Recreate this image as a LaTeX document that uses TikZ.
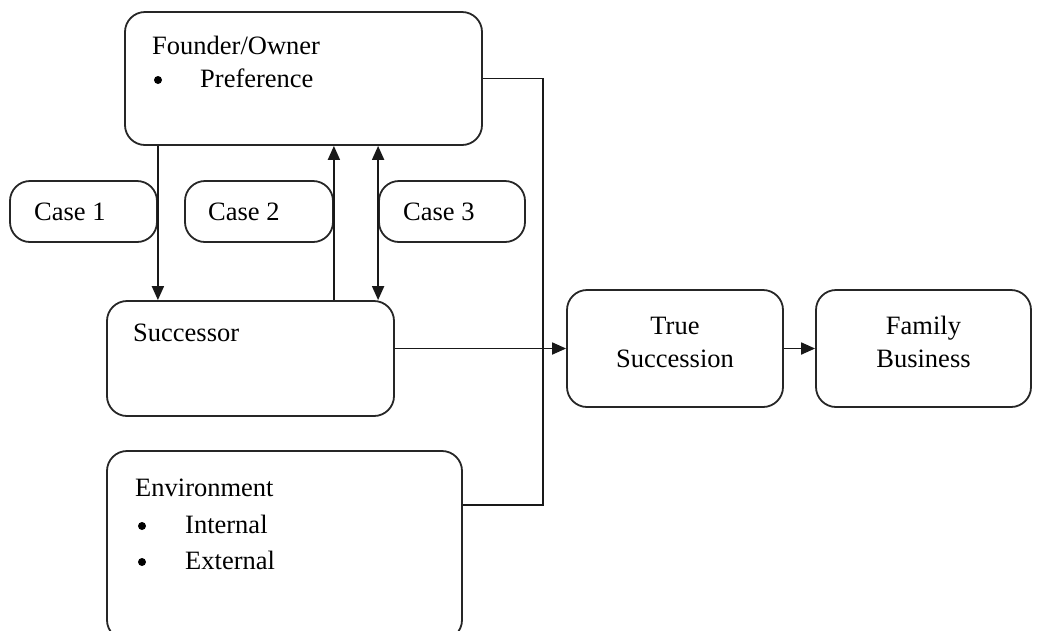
\documentclass[tikz,border=0pt]{standalone}
\usepackage{fontspec}
\setmainfont{Liberation Serif}
\usetikzlibrary{arrows.meta}
\begin{document}
\begin{tikzpicture}[x=1pt,y=-1pt,
  box/.style={draw=black!85,line width=1.8pt,rounded corners=20pt,inner sep=0pt,minimum width=#1},
  lbl/.style={inner sep=0pt,anchor=west,font=\fontsize{26.5}{33}\selectfont},
  clbl/.style={inner sep=0pt,align=center,font=\fontsize{26.5}{33}\selectfont},
  dot/.style={circle,fill=black,inner sep=0pt,minimum size=8pt},
  conn/.style={line width=1.8pt,draw=black!90},
  tip/.style={-{Triangle[length=14pt,width=12pt]}}]
\useasboundingbox (0,0) rectangle (1043,630);
% boxes
\node[box=357pt,minimum height=133pt] (founder) at (303.5,78.5) {};
\node[box=147pt,minimum height=61pt] (case1) at (83.5,211.5) {};
\node[box=148pt,minimum height=61pt] (case2) at (259,211.5) {};
\node[box=146pt,minimum height=61pt] (case3) at (452,211.5) {};
\node[box=287pt,minimum height=115pt] (succ) at (250.5,358.5) {};
\node[box=216pt,minimum height=117pt] (ts) at (675,348.5) {};
\node[box=215pt,minimum height=117pt] (fb) at (923.5,348.5) {};
\node[box=355pt,minimum height=189pt] (env) at (284.5,545.5) {};
% texts
\node[lbl] (tf) at (152,45) {Founder/Owner};
\node[dot] (tfb) at (158,80) {};
\node[lbl] (tfp) at (200,78) {Preference};
\node[lbl] (tc1) at (34,212) {Case 1};
\node[lbl] (tc2) at (208,212) {Case 2};
\node[lbl] (tc3) at (403,212) {Case 3};
\node[lbl] (tsu) at (133,333) {Successor};
\node[clbl] (tts) at (675,342) {True\\Succession};
\node[clbl] (tfbz) at (923.5,342) {Family\\Business};
\node[lbl] (te) at (135,488) {Environment};
\node[dot] (teb1) at (142,526) {};
\node[lbl] (tei) at (185,524) {Internal};
\node[dot] (teb2) at (142,562) {};
\node[lbl] (tee) at (185,560) {External};
% connectors
\coordinate (j) at (543,505);
\draw[conn,tip] (case1.east |- founder.south) -- (case1.east |- succ.north);
\draw[conn,tip] (case2.east |- succ.north) -- (case2.east |- founder.south);
\draw[conn,{Triangle[length=14pt,width=12pt]}-{Triangle[length=14pt,width=12pt]}] (case3.west |- founder.south) -- (case3.west |- succ.north);
\draw[conn] (founder.east) -| (j) -- (env.east |- j);
\draw[conn,tip] (succ.east |- ts.west) -- (ts.west);
\draw[conn,tip] (ts.east) -- (fb.west);
\end{tikzpicture}
\end{document}
